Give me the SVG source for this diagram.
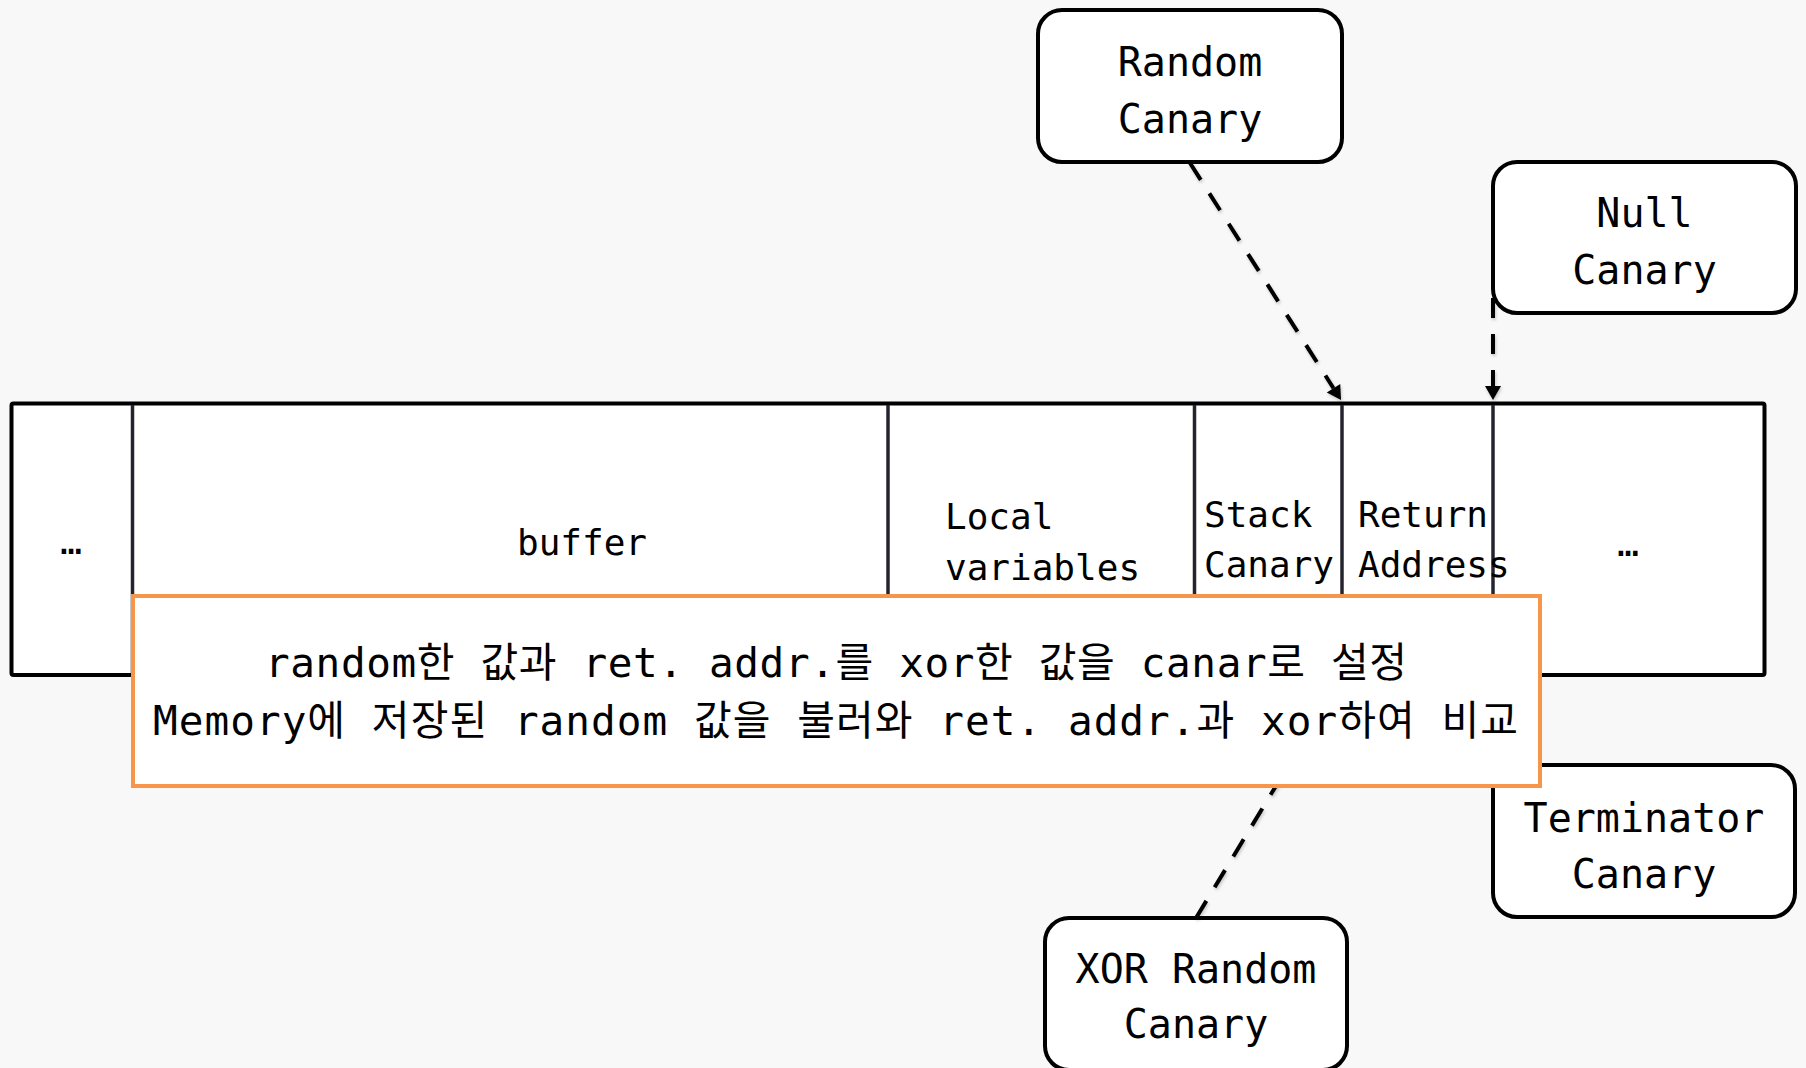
<svg xmlns="http://www.w3.org/2000/svg" width="1806" height="1068" viewBox="0 0 1806 1068">
  <style>
    .node { fill: #ffffff; stroke: #000000; stroke-width: 4; }
    .label { font-family: "DejaVu Sans Mono", "Noto Sans CJK KR", monospace; font-size: 40px; fill: #000000; text-anchor: middle; }
    .cell { font-family: "DejaVu Sans Mono", "Noto Sans CJK KR", monospace; font-size: 36px; fill: #000000; }
    .note { font-family: "DejaVu Sans Mono", "Noto Sans CJK KR", monospace; font-size: 41px; fill: #000000; }
    .divider { stroke: #24242e; stroke-width: 3.5; }
    .link { fill: none; stroke: #000000; stroke-width: 4; stroke-dasharray: 20 16; }
  </style>
  <defs>
    <marker id="arrow" markerUnits="userSpaceOnUse" markerWidth="16" markerHeight="18" refX="0" refY="8" orient="auto" overflow="visible">
      <path d="M0,0 L14,8 L0,16 Z" fill="#000000"/>
    </marker>
    <filter id="soft" x="-20%" y="-20%" width="140%" height="140%">
      <feDropShadow dx="1" dy="2" stdDeviation="1.5" flood-color="#000000" flood-opacity="0.2"/>
    </filter>
  </defs>

  <rect width="1806" height="1068" fill="#f8f8f8"/>

  <!-- stack frame layout -->
  <g id="stack">
    <rect x="11.5" y="403.5" width="1753" height="271.5" rx="2" fill="#ffffff" stroke="#000000" stroke-width="4"/>
    <line class="divider" x1="132.5" y1="405" x2="132.5" y2="673"/>
    <line class="divider" x1="888" y1="405" x2="888" y2="673"/>
    <line class="divider" x1="1194.5" y1="405" x2="1194.5" y2="673"/>
    <line class="divider" x1="1342" y1="405" x2="1342" y2="673"/>
    <line class="divider" x1="1493" y1="405" x2="1493" y2="673"/>
    <text class="cell" x="71" y="554" text-anchor="middle">…</text>
    <text class="cell" x="582" y="555" text-anchor="middle">buffer</text>
    <text class="cell" x="945" y="529">Local</text>
    <text class="cell" x="945" y="580">variables</text>
    <text class="cell" x="1204" y="527">Stack</text>
    <text class="cell" x="1204" y="577">Canary</text>
    <text class="cell" x="1358" y="527">Return</text>
    <text class="cell" x="1358" y="577">Address</text>
    <text class="cell" x="1628" y="556" text-anchor="middle">…</text>
  </g>

  <!-- canary type nodes -->
  <g id="random-canary">
    <rect class="node" x="1038" y="10" width="304" height="152" rx="24"/>
    <text class="label" x="1190" y="76">Random</text>
    <text class="label" x="1190" y="133">Canary</text>
  </g>
  <g id="null-canary">
    <rect class="node" x="1493" y="162" width="303" height="151" rx="24"/>
    <text class="label" x="1644.5" y="227">Null</text>
    <text class="label" x="1644.5" y="284">Canary</text>
  </g>
  <g id="terminator-canary">
    <rect class="node" x="1493" y="765" width="302" height="152" rx="24"/>
    <text class="label" x="1644" y="832">Terminator</text>
    <text class="label" x="1644" y="888">Canary</text>
  </g>
  <g id="xor-random-canary">
    <rect class="node" x="1045" y="918" width="302" height="152" rx="24"/>
    <text class="label" x="1196" y="983">XOR Random</text>
    <text class="label" x="1196" y="1038">Canary</text>
  </g>

  <!-- connectors -->
  <g id="connectors" filter="url(#soft)">
    <path class="link" d="M1190,163 L1333.5,388.2" marker-end="url(#arrow)"/>
    <path class="link" d="M1493,298 L1493,386" marker-end="url(#arrow)"/>
    <path class="link" d="M1196,918 L1334.7,689" marker-end="url(#arrow)"/>
  </g>

  <!-- explanation note -->
  <g id="xor-note">
    <rect x="133" y="596" width="1407" height="190" fill="#ffffff" stroke="#f7964a" stroke-width="4"/>
    <text class="note" x="265" y="677" textLength="1142" lengthAdjust="spacing">random한 값과 ret. addr.를 xor한 값을 canar로 설정</text>
    <text class="note" x="153" y="735" textLength="1365" lengthAdjust="spacing">Memory에 저장된 random 값을 불러와 ret. addr.과 xor하여 비교</text>
  </g>
</svg>
